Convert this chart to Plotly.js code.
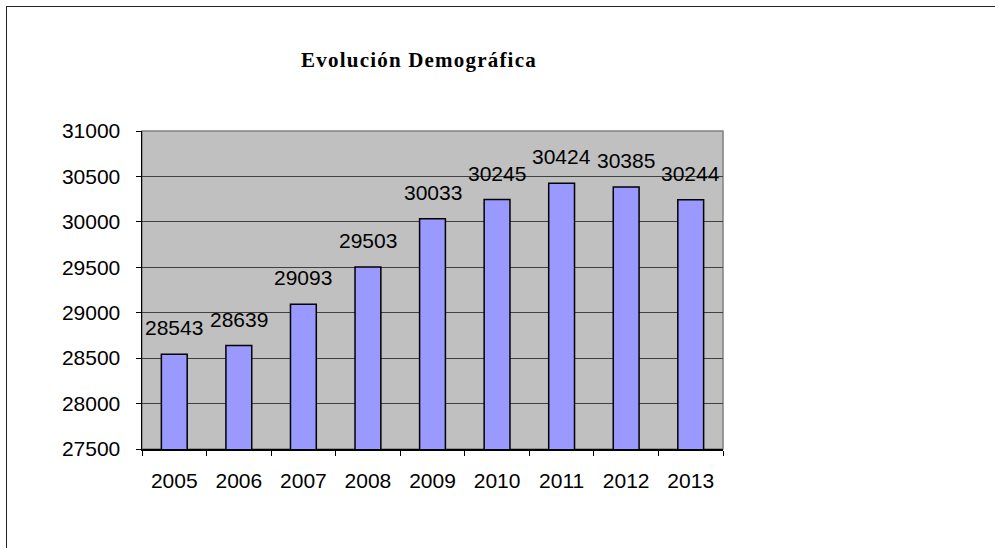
<!DOCTYPE html>
<html>
<head>
<meta charset="utf-8">
<script src="https://cdn.plot.ly/plotly-3.0.1.min.js"></script>
<style>
  html, body { margin: 0; padding: 0; background: #ffffff; overflow: hidden; }
  #wrap { position: relative; width: 995px; height: 548px; }
  #chart { position: absolute; left: 0; top: 0; width: 995px; height: 548px; }
  #frame { position: absolute; left: 6px; top: 6px; width: 1100px; height: 700px;
           border: 1.5px solid #222; pointer-events: none; box-sizing: border-box; }
  .gtitle { letter-spacing: 1.2px; }
</style>
</head>
<body>
<div id="wrap">
  <div id="chart"></div>
  <div id="frame"></div>
</div>
<script>
const years = ["2005", "2006", "2007", "2008", "2009", "2010", "2011", "2012", "2013"];
const population = [28543, 28639, 29093, 29503, 30033, 30245, 30424, 30385, 30244];
const titleText = "Evolución Demográfica";

const labelFont = { family: "Liberation Sans, Arial, sans-serif", size: 21, color: "#000000" };

const trace = {
  type: "bar",
  x: years,
  y: population,
  marker: { color: "#9999FF", line: { color: "#000000", width: 1.5 } },
  hoverinfo: "x+y"
};

// category axis: position annotations by category index
const annotations = years.map((yr, i) => ({
  x: i, y: population[i], xref: "x", yref: "y",
  text: String(population[i]), showarrow: false,
  yanchor: "bottom", yshift: 13, font: labelFont
}));

const layout = {
  width: 995, height: 548,
  margin: { l: 142, r: 272, t: 131, b: 99 },
  paper_bgcolor: "#ffffff",
  plot_bgcolor: "#C0C0C0",
  showlegend: false,
  bargap: 0.6,
  title: {
    text: "<b>" + titleText + "</b>",
    font: { family: "Liberation Serif, 'Times New Roman', serif", size: 21, color: "#000000" },
    x: 419 / 995, xanchor: "center", xref: "container",
    y: 1 - 60 / 548, yanchor: "middle", yref: "container"
  },
  xaxis: {
    type: "category",
    categoryorder: "array", categoryarray: years,
    range: [-0.5, years.length - 0.5], autorange: false,
    showline: true, linecolor: "#000000", linewidth: 1.5,
    ticks: "outside", tickson: "boundaries", ticklen: 5, tickcolor: "#000000", tickwidth: 1,
    tickfont: labelFont, ticklabelstandoff: 12, tickangle: 0,
    showgrid: false, zeroline: false, fixedrange: true
  },
  yaxis: {
    range: [27500, 31000], autorange: false, dtick: 500, tick0: 27500,
    showline: true, linecolor: "#000000", linewidth: 1.5,
    ticks: "outside", ticklen: 5, tickcolor: "#000000", tickwidth: 1,
    tickfont: labelFont, ticklabelstandoff: 11,
    showgrid: true, gridcolor: "#404040", gridwidth: 1,
    zeroline: false, fixedrange: true, tickformat: "d"
  },
  shapes: [{
    type: "rect", xref: "paper", yref: "paper", x0: 0, x1: 1, y0: 0, y1: 1,
    line: { color: "#808080", width: 1.5 }, fillcolor: "#C0C0C0", layer: "below"
  }],
  annotations: annotations
};

Plotly.newPlot("chart", [trace], layout, { displayModeBar: false, staticPlot: true });
</script>
</body>
</html>
